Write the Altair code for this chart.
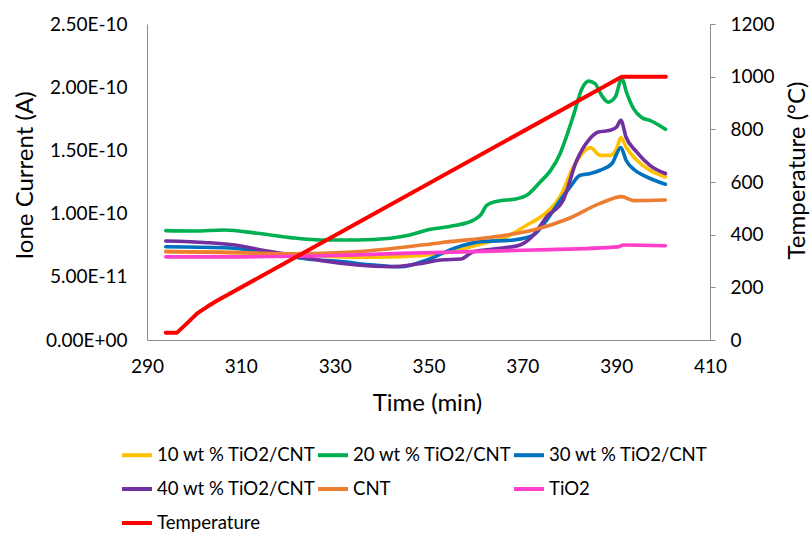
import altair as alt
import pandas as pd

# Ion current traces, values in units of 1e-10 A, each with its own time base (min)
UNIT = 1e-10

t_10 = [294, 305, 315, 325, 335, 344, 354.7, 361.8, 366.7, 371.0, 374.5, 378.0, 380.9,
        383.4, 384.5, 386.6, 388.7, 390.1, 391.0, 392.1, 394.4, 397.2, 400.5]
i_10 = [0.70, 0.695, 0.685, 0.67, 0.655, 0.66, 0.699, 0.765, 0.818, 0.91, 0.989, 1.132, 1.369,
        1.501, 1.522, 1.461, 1.461, 1.514, 1.601, 1.527, 1.422, 1.343, 1.290]

t_20 = [294, 300, 306.5, 313.5, 320.6, 327.7, 334.8, 341.9, 346, 349.7, 354.7, 359.6, 361.1,
        362.5, 365.3, 368.2, 371.0, 373.8, 376, 378.0, 379.5, 380.9, 382.7, 384.1, 385.5, 386.9,
        388.3, 389.8, 391.2, 392.3, 393.7, 395.5, 397.2, 400.5]
i_20 = [0.865, 0.862, 0.87, 0.844, 0.81, 0.791, 0.791, 0.805, 0.83, 0.87, 0.90, 0.949, 0.989,
        1.068, 1.102, 1.113, 1.147, 1.25, 1.34, 1.47, 1.62, 1.777, 1.988, 2.048, 2.028, 1.935,
        1.882, 1.922, 2.067, 1.949, 1.830, 1.759, 1.738, 1.667]

t_30 = [294, 306.5, 317.1, 324.2, 331.3, 338.4, 344.0, 349.7, 355.4, 361.1, 368.2, 372.4,
        375.2, 378.1, 380.2, 382.3, 384.5, 386.6, 389.1, 391.0, 392.1, 394.0, 396.5, 400.5]
i_30 = [0.738, 0.730, 0.686, 0.641, 0.62, 0.593, 0.58, 0.633, 0.725, 0.778, 0.791, 0.831,
        0.949, 1.108, 1.211, 1.303, 1.317, 1.343, 1.396, 1.522, 1.422, 1.343, 1.290, 1.232]

t_40 = [294, 302.9, 310, 315, 320.6, 327.7, 334.8, 341.9, 347.6, 352.6, 356.9, 359.6, 365.3,
        369.5, 372.4, 375.2, 378.7, 381.6, 384.1, 386.2, 388.7, 390.1, 391.0, 392.1, 394.4,
        397.2, 400.5]
i_40 = [0.783, 0.77, 0.744, 0.707, 0.673, 0.625, 0.593, 0.58, 0.601, 0.633, 0.641, 0.699, 0.725,
        0.752, 0.831, 0.976, 1.106, 1.422, 1.58, 1.645, 1.659, 1.685, 1.738, 1.606, 1.487,
        1.382, 1.317]

t_cnt = [294, 310, 320.6, 331.3, 341.9, 352.6, 365.3, 372.4, 379.5, 386.6, 391.2, 393.7, 400.5]
i_cnt = [0.699, 0.691, 0.681, 0.691, 0.722, 0.77, 0.823, 0.871, 0.955, 1.081, 1.134, 1.103, 1.108]

t_tio2 = [294, 310, 330, 344, 372.4, 390.5, 391.5, 400.5]
i_tio2 = [0.658, 0.658, 0.668, 0.685, 0.712, 0.737, 0.752, 0.746]

# Furnace temperature (°C)
t_temp = [294, 296.4, 298.5, 300.7, 302.8, 304.9, 391.2, 400.6]
temp_c = [28, 28, 63, 101, 126, 149, 1000, 1000]

names = ["10 wt % TiO2/CNT", "20 wt % TiO2/CNT", "30 wt % TiO2/CNT",
         "40 wt % TiO2/CNT", "CNT", "TiO2", "Temperature"]
colors = ["#FFC000", "#00B050", "#0070C0", "#7030A0", "#ED7D31", "#FF3FCC", "#FF0000"]

x_ticks = [290, 310, 330, 350, 370, 390, 410]
y_ticks = [0, 0.5e-10, 1.0e-10, 1.5e-10, 2.0e-10, 2.5e-10]
temp_ticks = [0, 200, 400, 600, 800, 1000, 1200]

rows = []
for name, ts, vs in zip(names[:6], [t_10, t_20, t_30, t_40, t_cnt, t_tio2],
                        [i_10, i_20, i_30, i_40, i_cnt, i_tio2]):
    for k, (t, v) in enumerate(zip(ts, vs)):
        rows.append({"series": name, "order": k, "time": t, "current": v * UNIT})
current_df = pd.DataFrame(rows)
temp_df = pd.DataFrame({"series": "Temperature", "order": range(len(t_temp)),
                        "time": t_temp, "temp": temp_c})

FONT = "Lato"
AXIS_GREY = "#8c8c8c"

color = alt.Color(
    "series:N",
    scale=alt.Scale(domain=names, range=colors),
    sort=names,
    legend=alt.Legend(
        title=None, orient="none", legendX=-27, legendY=414, columns=3,
        direction="horizontal",
        symbolType="stroke", symbolSize=900, symbolStrokeWidth=4,
        labelFont=FONT, labelFontSize=18.6, labelColor="#000000", labelOffset=3,
        columnPadding=-15, rowPadding=7, padding=0, labelLimit=300,
    ),
)

x = alt.X(
    "time:Q",
    scale=alt.Scale(domain=[290, 410], nice=False, zero=False),
    axis=alt.Axis(
        values=x_ticks, title="Time (min)", grid=False, ticks=False, labelFlush=False,
        domainColor=AXIS_GREY, labelFont=FONT, labelFontSize=19, labelColor="#000000",
        labelPadding=17, titleFont=FONT, titleFontSize=24, titleFontWeight="normal",
        titleColor="#000000", titleX=280, titleY=63, titleBaseline="middle",
    ),
)

current_lines = alt.Chart(current_df).mark_line(
    strokeWidth=3.6, strokeCap="round", strokeJoin="round", interpolate="monotone"
).encode(
    x=x,
    y=alt.Y(
        "current:Q",
        scale=alt.Scale(domain=[0, 2.5e-10], nice=False),
        axis=alt.Axis(
            values=y_ticks, title="Ione Current (A)", grid=False, ticks=False,
            labelFlush=False,
            domainColor=AXIS_GREY, labelFont=FONT, labelFontSize=19, labelColor="#000000",
            labelPadding=20,
            labelExpr="datum.value == 0 ? '0.00E+00' : upper(format(datum.value, '.2e'))",
            titleFont=FONT, titleFontSize=24, titleFontWeight="normal", titleColor="#000000",
            titleAngle=270, titleX=-122, titleY=151, titleAlign="center",
            titleBaseline="middle",
        ),
    ),
    color=color,
    order="order:Q",
)

temp_line = alt.Chart(temp_df).mark_line(
    strokeWidth=4, strokeCap="round", strokeJoin="round"
).encode(
    x=x,
    y=alt.Y(
        "temp:Q",
        scale=alt.Scale(domain=[0, 1200], nice=False),
        axis=alt.Axis(
            orient="right", values=temp_ticks, format="d", title="Temperature (°C)",
            grid=False, labelFlush=False,
            ticks=True, tickSize=5, tickColor=AXIS_GREY, domainColor=AXIS_GREY,
            labelFont=FONT, labelFontSize=19, labelColor="#000000", labelPadding=15,
            titleFont=FONT, titleFontSize=24, titleFontWeight="normal", titleColor="#000000",
            titleAngle=270, titleX=87, titleY=146, titleAlign="center",
            titleBaseline="middle",
        ),
    ),
    color=color,
    order="order:Q",
)

chart = (
    alt.layer(current_lines, temp_line)
    .resolve_scale(y="independent")
    .properties(
        width=563, height=316,
        autosize=alt.AutoSizeParams(type="none"),
        padding={"left": 147, "top": 24, "right": 102, "bottom": 193},
        background="white",
    )
    .configure_view(strokeWidth=0)
)

chart.save("out.html", embed_options={"renderer": "svg", "actions": False})
